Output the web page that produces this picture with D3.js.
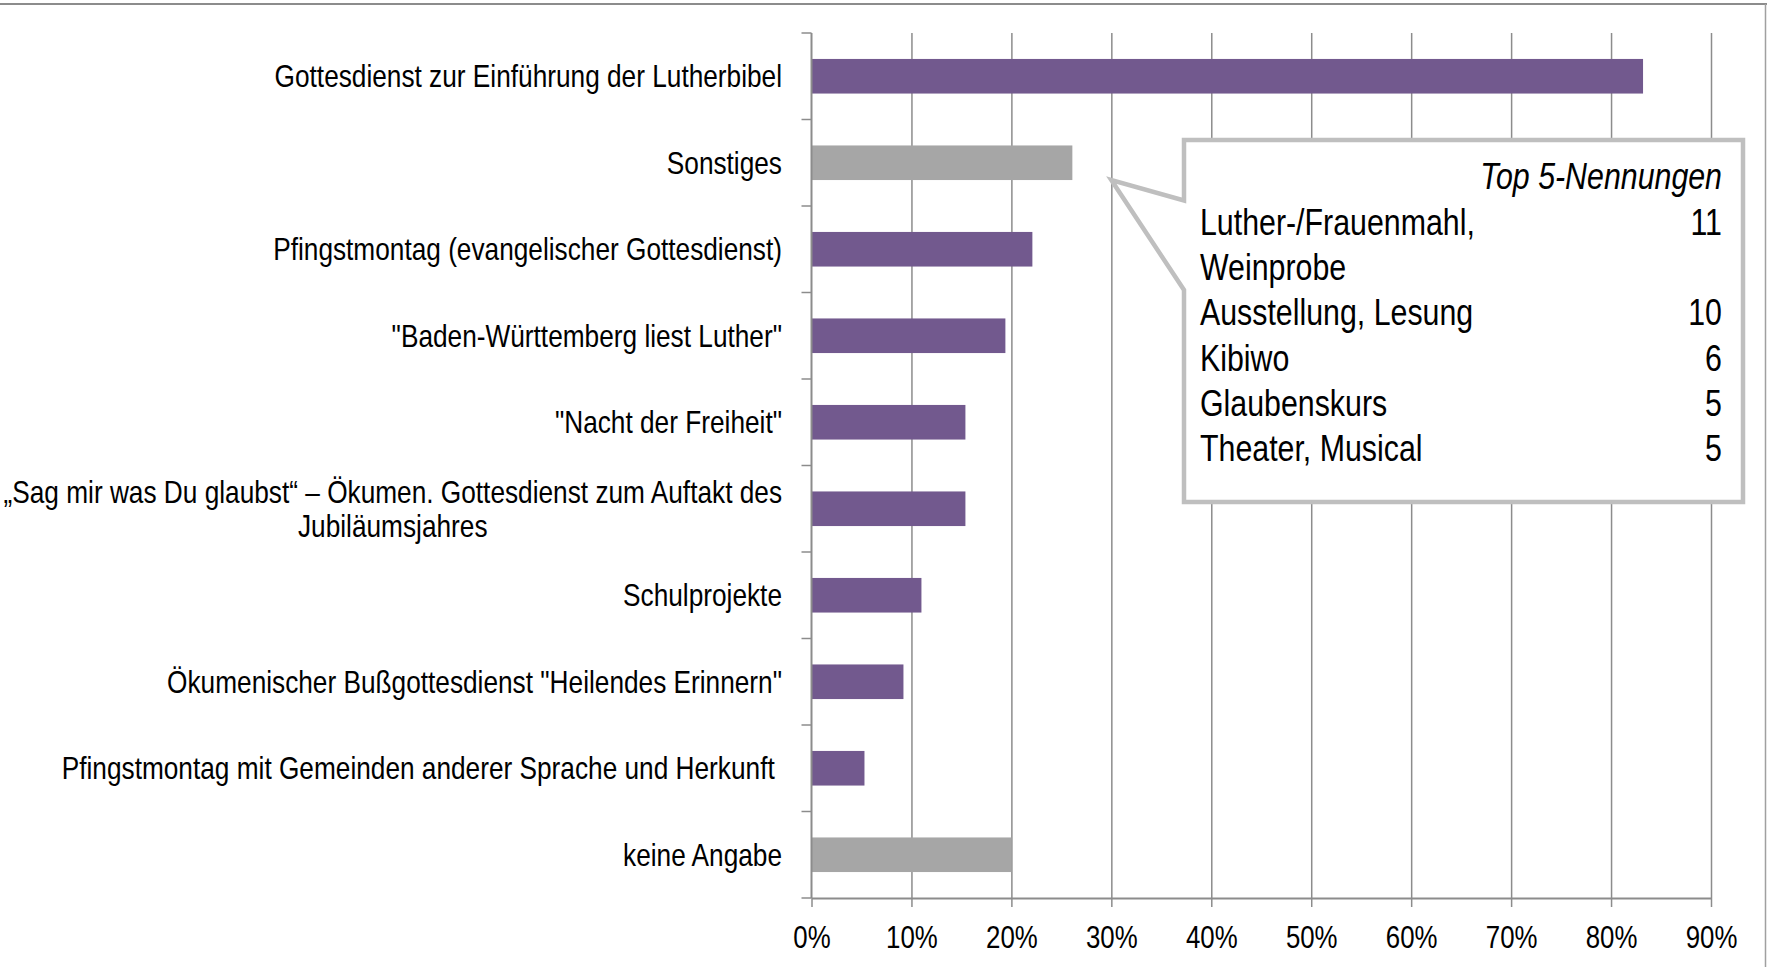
<!DOCTYPE html>
<html>
<head>
<meta charset="utf-8">
<script src="https://cdn.jsdelivr.net/npm/d3@7"></script>
<style>
    body { margin: 0; background: #fff; }
    #chart { width: 1767px; height: 967px; }
    text { font-family: 'Liberation Sans', Arial, sans-serif; fill: #000; }
</style>
</head>
<body>
<div id="chart"></div>
<script>

// categories top to bottom, "\n" = line break in the label
const categories = [
    "Gottesdienst zur Einführung der Lutherbibel",
    "Sonstiges",
    "Pfingstmontag (evangelischer Gottesdienst)",
    "\"Baden-Württemberg liest Luther\"",
    "\"Nacht der Freiheit\"",
    "„Sag mir was Du glaubst“ – Ökumen. Gottesdienst zum Auftakt des\nJubiläumsjahres",
    "Schulprojekte",
    "Ökumenischer Bußgottesdienst \"Heilendes Erinnern\"",
    "Pfingstmontag mit Gemeinden anderer Sprache und Herkunft\u00a0",
    "keine Angabe"
];

// percent of answers
const values = [83.2, 26.1, 22.1, 19.4, 15.4, 15.4, 11.0, 9.2, 5.3, 20.0];

const greyCategories = ["Sonstiges", "keine Angabe"];

const xTicks = [0, 10, 20, 30, 40, 50, 60, 70, 80, 90];

// callout next to "Sonstiges"
const calloutTitle = "Top 5-Nennungen";
const calloutItems = ["Luther-/Frauenmahl,\nWeinprobe", "Ausstellung, Lesung", "Kibiwo", "Glaubenskurs", "Theater, Musical"];
const calloutCounts = [11, 10, 6, 5, 5];

// no narrow font installed -> squeeze Liberation Sans like Arial Narrow
const NARROW = 0.82;

function narrowText(parent, x, y, str, size, anchor) {
    return parent.append("g")
        .attr("transform", `translate(${x}, ${y}) scale(${NARROW}, 1)`)
        .append("text")
        .attr("text-anchor", anchor || "start")
        .style("font-size", size + "px")
        .text(str);
}


class BarVis {

    constructor(parentElement) {
        this.parentElement = parentElement;
        this.data = categories.map((c, i) => ({category: c, value: values[i]}));
        this.initVis();
    }

    initVis() {
        let vis = this;

        vis.margin = {top: 33, right: 56, bottom: 69, left: 811.5};
        vis.width = 1767 - vis.margin.left - vis.margin.right;
        vis.height = 967 - vis.margin.top - vis.margin.bottom;

        vis.root = d3.select("#" + vis.parentElement).append("svg")
            .attr("width", 1767)
            .attr("height", 967);

        // frame lines (top + right)
        vis.root.append("line")
            .attr("x1", 0).attr("x2", 1767)
            .attr("y1", 4).attr("y2", 4)
            .attr("stroke", "#8c8c8c").attr("stroke-width", 2);
        vis.root.append("line")
            .attr("x1", 1765.5).attr("x2", 1765.5)
            .attr("y1", 4).attr("y2", 967)
            .attr("stroke", "#a0a0a0").attr("stroke-width", 1.5);

        vis.svg = vis.root.append("g")
            .attr("transform", `translate(${vis.margin.left}, ${vis.margin.top})`);

        vis.x = d3.scaleLinear()
            .domain([0, 90])
            .range([0, vis.width]);

        vis.y = d3.scaleBand()
            .domain(categories)
            .range([0, vis.height])
            .paddingInner(0.6)
            .paddingOuter(0.3);

        vis.wrangleData();
    }

    wrangleData() {
        let vis = this;
        vis.data.forEach(d => { d.grey = greyCategories.includes(d.category); });
        vis.updateVis();
    }

    updateVis() {
        let vis = this;

        // gridlines
        let grid = vis.svg.append("g")
            .attr("class", "grid")
            .call(d3.axisBottom(vis.x).tickValues(xTicks.slice(1)).tickSize(vis.height).tickFormat(""));
        grid.select(".domain").remove();
        grid.selectAll("line").attr("stroke", "#8c8c8c").attr("stroke-width", 1.5);

        // bars
        vis.svg.selectAll(".bar")
            .data(vis.data)
            .enter().append("rect")
            .attr("class", "bar")
            .attr("x", 0)
            .attr("y", d => vis.y(d.category))
            .attr("height", vis.y.bandwidth())
            .attr("width", d => vis.x(d.value))
            .attr("fill", d => d.grey ? "#a6a6a6" : "#72598e");

        // x axis
        let xAxis = vis.svg.append("g")
            .attr("transform", `translate(0, ${vis.height})`)
            .call(d3.axisBottom(vis.x)
                .tickValues(xTicks)
                .tickFormat(d => d + "%")
                .tickSize(9)
                .tickSizeOuter(0)
                .tickPadding(19));
        xAxis.select(".domain").attr("stroke", "#8c8c8c").attr("stroke-width", 2);
        xAxis.selectAll(".tick line").attr("stroke", "#8c8c8c").attr("stroke-width", 1.5);
        xAxis.selectAll(".tick text")
            .attr("transform", `scale(${NARROW}, 1)`)
            .style("font-family", "'Liberation Sans', Arial, sans-serif")
            .style("font-size", "31.5px")
            .attr("fill", "#000");

        // y axis: line + ticks between categories
        vis.svg.append("line")
            .attr("x1", 0).attr("x2", 0)
            .attr("y1", 0).attr("y2", vis.height)
            .attr("stroke", "#8c8c8c").attr("stroke-width", 2);

        let step = vis.y.step();
        vis.svg.selectAll(".ytick")
            .data(d3.range(categories.length + 1))
            .enter().append("line")
            .attr("class", "ytick")
            .attr("x1", -10).attr("x2", 0)
            .attr("y1", i => i * step)
            .attr("y2", i => i * step)
            .attr("stroke", "#8c8c8c").attr("stroke-width", 1.5);

        // category labels (multi-line ones are centred as a block, block right aligned)
        let labelRight = -29.5;
        let lineH = 34;
        let fs = 32;
        vis.data.forEach(d => {
            let lines = d.category.split("\n");
            let cy = vis.y(d.category) + vis.y.bandwidth() / 2;
            if (lines.length === 1) {
                narrowText(vis.svg, labelRight, cy, lines[0], fs, "end").attr("dy", "0.35em");
            } else {
                let texts = lines.map((l, j) =>
                    narrowText(vis.svg, 0, cy + (j - (lines.length - 1) / 2) * lineH, l, fs, "middle")
                        .attr("dy", "0.35em"));
                let maxW = d3.max(texts, t => t.node().getComputedTextLength()) * NARROW;
                texts.forEach((t, j) => {
                    d3.select(t.node().parentNode)
                        .attr("transform", `translate(${labelRight - maxW / 2}, ${cy + (j - (lines.length - 1) / 2) * lineH}) scale(${NARROW}, 1)`);
                });
            }
        });

        vis.drawCallout();
    }

    drawCallout() {
        let vis = this;

        // tip sits at 30% below the "Sonstiges" bar
        let tipX = vis.margin.left + vis.x(30);
        let tipY = vis.margin.top + vis.y("Sonstiges") + vis.y.bandwidth();
        let box = {left: 1184, top: 140, right: 1743, bottom: 502, notchTop: 200.5, notchBottom: 290};

        let path = d3.path();
        path.moveTo(box.left, box.top);
        path.lineTo(box.right, box.top);
        path.lineTo(box.right, box.bottom);
        path.lineTo(box.left, box.bottom);
        path.lineTo(box.left, box.notchBottom);
        path.lineTo(tipX, tipY);
        path.lineTo(box.left, box.notchTop);
        path.closePath();

        vis.root.append("path")
            .attr("d", path.toString())
            .attr("fill", "#fff")
            .attr("stroke", "#bfbfbf")
            .attr("stroke-width", 4.5)
            .attr("stroke-linejoin", "miter");

        let textLeft = 1200;
        let textRight = 1722;
        let rowH = 45.2;
        let fs = 37;

        narrowText(vis.root, textRight, 189, calloutTitle, fs, "end")
            .style("font-style", "italic");

        let line = 0;
        calloutItems.forEach((item, i) => {
            let baseY = 235 + line * rowH;
            let parts = item.split("\n");
            parts.forEach((l, j) => {
                narrowText(vis.root, textLeft, baseY + j * rowH, l, fs);
            });
            narrowText(vis.root, textRight, baseY, calloutCounts[i], fs, "end");
            line += parts.length;
        });
    }
}

let myBarVis = new BarVis("chart");

</script>
</body>
</html>
